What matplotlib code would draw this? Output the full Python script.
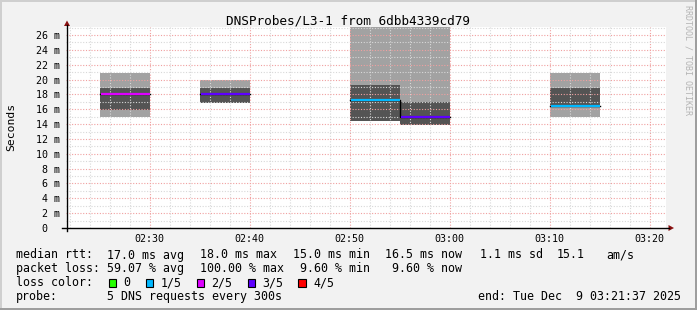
import matplotlib
matplotlib.use("Agg")
import matplotlib.pyplot as plt
from matplotlib.patches import Rectangle, Polygon
from matplotlib.lines import Line2D
import numpy as np

# -------------------------
# Data (values in ms)
# -------------------------
slot_start = ["02:25", "02:35", "02:50", "02:55", "03:10"]   # 5 minute steps
rtt_min = [14.9, 16.9, 14.4, 13.9, 14.9]
rtt_max = [20.9, 20.0, 30.0, 30.0, 20.9]
smoke_lo = [15.9, 16.9, 14.4, 13.9, 16.5]
smoke_hi = [18.9, 18.9, 19.3, 17.0, 18.9]
median = [18.0, 18.0, 17.3, 15.0, 16.5]
loss = [2, 3, 1, 3, 1]                       # lost pings out of 5

loss_labels = ["0", "1/5", "2/5", "3/5", "4/5"]
loss_colors = ["#26ff00", "#00b8ff", "#dd00ff", "#5e00ff", "#ff0000"]

x_ticks = ["02:30", "02:40", "02:50", "03:00", "03:10", "03:20"]
t_start, t_end = "02:21:37", "03:21:37"

title = "DNSProbes/L3-1 from 6dbb4339cd79"
legend_rows = [
    [("median rtt:", 16), ("17.0 ms avg", 107.3), ("18.0 ms max", 200), ("15.0 ms min", 293.3),
     ("16.5 ms now", 385), ("1.1 ms sd", 480), ("15.1", 557), ("am/s", 606.7)],
    [("packet loss:", 16), ("59.07 % avg", 107.3), ("100.00 % max", 200), ("9.60 % min", 300.3),
     ("9.60 % now", 392)],
    [("loss color:", 16)],
    [("probe:", 16), ("5 DNS requests every 300s", 107.3), ("end: Tue Dec  9 03:21:37 2025", 478.3)],
]


def to_min(s):
    p = [int(v) for v in s.split(":")]
    while len(p) < 3:
        p.append(0)
    return (p[0] - 2) * 60 + p[1] + p[2] / 60.0


W, H = 697, 310
MONO = "DejaVu Sans Mono"


def fx(x):
    return x / W


def fy(y):
    return 1 - y / H


fig = plt.figure(figsize=(W / 100, H / 100), dpi=100, facecolor="#f2f2f2")

# plot canvas: x 66..666 px, y 0 ms at 228 px, 7.423 px per ms
y_top = 27.1
px_ms = 7.423
ax = fig.add_axes([fx(66), fy(228), 600 / W, y_top * px_ms / H])
ax.set_facecolor("white")
ax.set_xlim(to_min(t_start), to_min(t_end))
ax.set_ylim(0, y_top)

starts = np.array([to_min(s) for s in slot_start])
rmin, rmax = np.array(rtt_min), np.array(rtt_max)
slo, shi = np.array(smoke_lo), np.array(smoke_hi)

ax.bar(starts, rmax - rmin, bottom=rmin, width=5, align="edge", color="#a2a2a2", lw=0, zorder=1)
ax.bar(starts, shi - slo, bottom=slo, width=5, align="edge", color="#545454", lw=0, zorder=1.1)

# grid (drawn over the smoke, like rrdtool)
for m in np.arange(22, 82, 2):
    major = m % 10 == 0
    ax.axvline(m, color="#f0a0a0" if major else "#d8d8d8", lw=0.8,
               ls=(0, (1, 1.5)), zorder=2)
for v in np.arange(1, 28, 1):
    major = v % 2 == 0
    ax.axhline(v, color="#f0a0a0" if major else "#d8d8d8", lw=0.8,
               ls=(0, (1, 1.5)), zorder=2)

# median line: black step underneath, loss coloured segments on top
sx, sy = [], []
for i, s in enumerate(starts):
    if i > 0 and abs(starts[i - 1] + 5 - s) < 1e-6:
        sx += [s, s]
        sy += [median[i - 1], median[i]]
    else:
        sx.append(np.nan)
        sy.append(np.nan)
    sx += [s, s + 5]
    sy += [median[i], median[i]]
ax.plot(sx, sy, color="black", lw=1.0, zorder=3)
ax.hlines(median, starts + 0.15, starts + 5, colors=[loss_colors[l] for l in loss], lw=1.6, zorder=4)

for sp in ["top", "right", "left", "bottom"]:
    ax.spines[sp].set_visible(False)
ax.set_xticks([to_min(t) for t in x_ticks])
ax.set_xticklabels(x_ticks)
ax.set_yticks(np.arange(0, 27, 2))
ax.set_yticklabels(["0  "] + [f"{v} m" for v in range(2, 27, 2)])
ax.tick_params(axis="both", length=0, labelsize=7.2, colors="black")
ax.tick_params(axis="y", pad=4.3)
ax.tick_params(axis="x", pad=4)
for lab in ax.get_xticklabels() + ax.get_yticklabels():
    lab.set_family(MONO)

# axes lines with arrows
fig.add_artist(Line2D([fx(62), fx(669)], [fy(228), fy(228)], color="black", lw=1.0))
fig.add_artist(Line2D([fx(67), fx(67)], [fy(231), fy(25)], color="black", lw=1.0))
fig.add_artist(Polygon([(fx(67), fy(20.5)), (fx(64), fy(26)), (fx(70), fy(26))],
                       closed=True, color="#8b1010", lw=0))
fig.add_artist(Polygon([(fx(674), fy(228)), (fx(668.5), fy(225)), (fx(668.5), fy(231))],
                       closed=True, color="#8b1010", lw=0))

# titles
fig.text(0.5, fy(24), title, ha="center", va="baseline", fontsize=9.2, family=MONO)
fig.text(fx(11), fy(127), "Seconds", rotation=90, ha="center", va="center", fontsize=8.2, family=MONO)
fig.text(fx(688), fy(5), "RRDTOOL / TOBI OETIKER", rotation=270, ha="center", va="top",
         fontsize=6, family=MONO, color="#b4b4b4")

# legend
for r, row in enumerate(legend_rows):
    base = 258.5 + 13.75 * r
    for txt, x in row:
        fig.text(fx(x), fy(base), txt, ha="left", va="baseline", fontsize=8.4, family=MONO)

box_x = [108.5, 145.7, 196.7, 247.7, 298.3]
for i, lab in enumerate(loss_labels):
    fig.add_artist(Rectangle((fx(box_x[i]), fy(286.5)), 7.5 / W, 7.5 / H,
                             facecolor=loss_colors[i], edgecolor="black", lw=0.8))
    fig.text(fx(box_x[i] + 14.8), fy(286.5), lab, ha="left", va="baseline", fontsize=8.4, family=MONO)

# 3d-ish frame
fig.add_artist(Rectangle((0, fy(2)), 1, 2 / H, color="#cfcfcf", lw=0))
fig.add_artist(Rectangle((0, 0), 2 / W, 1, color="#cfcfcf", lw=0))
fig.add_artist(Rectangle((0, 0), 1, 2 / H, color="#9e9e9e", lw=0))
fig.add_artist(Rectangle((1 - 2 / W, 0), 2 / W, 1, color="#9e9e9e", lw=0))

fig.savefig("out.png", dpi=100, facecolor=fig.get_facecolor())
